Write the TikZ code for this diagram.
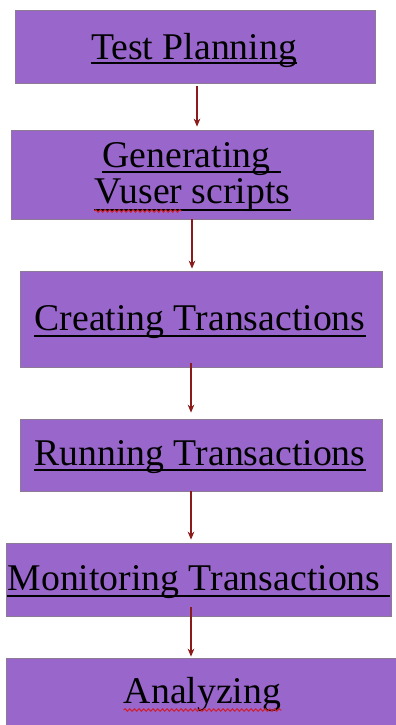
\documentclass[tikz,border=0pt]{standalone}
\usepackage{fontspec}
\setmainfont{Liberation Serif}
\usetikzlibrary{calc,arrows.meta,decorations.pathmorphing}
\definecolor{boxfill}{HTML}{9966CC}
\definecolor{boxline}{HTML}{8C7A96}
\definecolor{arrowred}{HTML}{8B1A1A}
\definecolor{wavyred}{HTML}{D02030}
\begin{document}
\begin{tikzpicture}[x=0.75pt,y=-0.75pt,
  box/.style={draw=boxline,line width=0.6pt,fill=boxfill,rectangle,inner sep=0pt},
  lbl/.style={anchor=base,inner sep=0pt,font=\fontsize{28.3}{37}\selectfont,text=black},
  uline/.style={line width=1.1pt,black},
  wavy/.style={wavyred,line width=0.8pt,decorate,decoration={snake,amplitude=0.9pt,segment length=3.5pt}},
  arr/.style={arrowred,line width=0.8pt,-{Stealth[length=6pt,width=5pt]}}]
\useasboundingbox (0,0) rectangle (396,725);
% boxes
\node[box,minimum width=270pt,minimum height=54.75pt] (b1) at (195,46.5) {};
\node[box,minimum width=271.5pt,minimum height=66.75pt] (b2) at (192,174.5) {};
\node[box,minimum width=271.5pt,minimum height=72pt] (b3) at (201,319) {};
\node[box,minimum width=271.5pt,minimum height=54pt] (b4) at (201,455) {};
\node[box,minimum width=288.75pt,minimum height=54.75pt] (b5) at (198.5,579.5) {};
\node[box,minimum width=292.5pt,minimum height=53.25pt] (b6) at (201,693.5) {};
% labels
\node[lbl] (t1) at (194,59) {Test Planning};
\node[lbl] (t2a) at (186.5,167) {Generating};
\node[lbl] (t2b) at (192.5,203) {Vuser scripts};
\node[lbl] (t3) at (200,330) {Creating Transactions};
\node[lbl] (t4) at (200,465) {Running Transactions};
\node[lbl] (t5) at (194,590) {Monitoring Transactions};
\node[lbl] (t6) at (202.5,703) {Analyzing};
% underlines
\draw[uline] ($(t1.base west)+(0,4)$) -- ($(t1.base east)+(0,4)$);
\draw[uline] ($(t2a.base west)+(0,5)$) -- ($(t2a.base east)+(10,5)$);
\draw[uline] ($(t2b.base west)+(0,7)$) -- ($(t2b.base east)+(0,7)$);
\draw[uline] ($(t3.base west)+(0,6)$) -- ($(t3.base east)+(0,6)$);
\draw[uline] ($(t4.base west)+(0,5)$) -- ($(t4.base east)+(0,5)$);
\draw[uline] ($(t5.base west)+(0,6)$) -- ($(t5.base east)+(9,6)$);
% spell-check wavy lines
\draw[wavy] ($(t2b.base west)+(0,8)$) -- ($(t2b.base west)+(87,8)$);
\draw[wavy] ($(t6.base west)+(0,7)$) -- ($(t6.base east)+(0,7)$);
% arrows
\draw[arr] ($(b1.south)+(2,3)$) -- ($(b2.north)+(5,-3)$);
\draw[arr] ($(b2.south)+(0,0)$) -- ($(b3.north)+(-9,-2)$);
\draw[arr] ($(b3.south)+(-10,-4)$) -- ($(b4.north)+(-10,-6)$);
\draw[arr] ($(b4.south)+(-10,0)$) -- ($(b5.north)+(-7.5,-3)$);
\draw[arr] ($(b5.south)+(-7.5,-9)$) -- ($(b6.north)+(-10,-1)$);
\end{tikzpicture}
\end{document}
